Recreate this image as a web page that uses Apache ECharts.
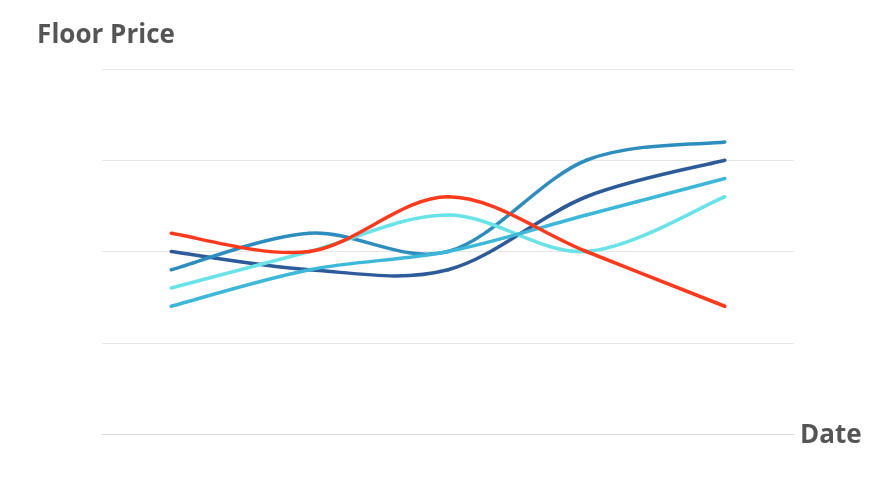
<!DOCTYPE html>
<html>
<head>
<meta charset="utf-8">
<script src="https://cdn.jsdelivr.net/npm/echarts@6/dist/echarts.min.js"></script>
<style>
  html, body { margin: 0; padding: 0; background: #fff; }
  #chart { width: 893px; height: 503px; }
</style>
</head>
<body>
<div id="chart"></div>
<script>
const dates = ['1', '2', '3', '4', '5'];
const seriesA = [2.0, 1.8, 1.8, 2.6, 3.0];
const seriesB = [1.8, 2.2, 2.0, 3.0, 3.2];
const seriesC = [1.6, 2.0, 2.4, 2.0, 2.6];
const seriesD = [1.4, 1.8, 2.0, 2.4, 2.8];
const seriesE = [2.2, 2.0, 2.6, 2.0, 1.4];

const colors = ['#2d5b9a', '#2e8dbf', '#6ae3e8', '#3db8d9', '#ff3a1c'];

// catmull-rom style smooth line drawn in one go, points come from the axes
function mk(data, color) {
  return {
    type: 'custom',
    data: data.map((v, i) => [i, v]),
    encode: { x: 0, y: 1 },
    renderItem: function (params, api) {
      if (params.dataIndex !== 0) return null;
      const pts = data.map((v, i) => api.coord([i, v]));
      const n = pts.length;
      const children = [];
      for (let i = 0; i < n - 1; i++) {
        const p0 = pts[Math.max(i - 1, 0)];
        const p1 = pts[i];
        const p2 = pts[i + 1];
        const p3 = pts[Math.min(i + 2, n - 1)];
        children.push({
          type: 'bezierCurve',
          shape: {
            x1: p1[0], y1: p1[1],
            x2: p2[0], y2: p2[1],
            cpx1: p1[0] + (p2[0] - p0[0]) / 6,
            cpy1: p1[1] + (p2[1] - p0[1]) / 6,
            cpx2: p2[0] - (p3[0] - p1[0]) / 6,
            cpy2: p2[1] - (p3[1] - p1[1]) / 6
          },
          style: { stroke: color, lineWidth: 3.5, fill: null, lineCap: 'round' }
        });
      }
      return { type: 'group', children: children };
    }
  };
}

let chart = echarts.init(document.getElementById('chart'));
chart.setOption({
  animation: false,
  color: colors,
  grid: { left: 102, right: 99, top: 69, bottom: 69 },
  xAxis: {
    type: 'category',
    data: dates,
    name: 'Date',
    nameGap: 6,
    nameTextStyle: {
      fontFamily: 'Open Sans',
      fontWeight: 'bold',
      fontSize: 26,
      color: '#555555',
      verticalAlign: 'top',
      lineHeight: 4
    },
    axisTick: { show: false },
    axisLabel: { show: false },
    axisLine: { lineStyle: { color: '#d9d9d9' } }
  },
  yAxis: {
    type: 'value',
    min: 0,
    max: 4,
    interval: 1,
    name: 'Floor Price',
    nameGap: 20,
    nameTextStyle: {
      fontFamily: 'Open Sans',
      fontWeight: 'bold',
      fontSize: 26,
      color: '#555555',
      padding: [0, 0, 0, 8]
    },
    axisLabel: { show: false },
    axisTick: { show: false },
    axisLine: { show: false },
    splitLine: { lineStyle: { color: '#e6e6e6' } }
  },
  series: [
    mk(seriesA, colors[0]),
    mk(seriesB, colors[1]),
    mk(seriesC, colors[2]),
    mk(seriesD, colors[3]),
    mk(seriesE, colors[4])
  ]
});
</script>
</body>
</html>
